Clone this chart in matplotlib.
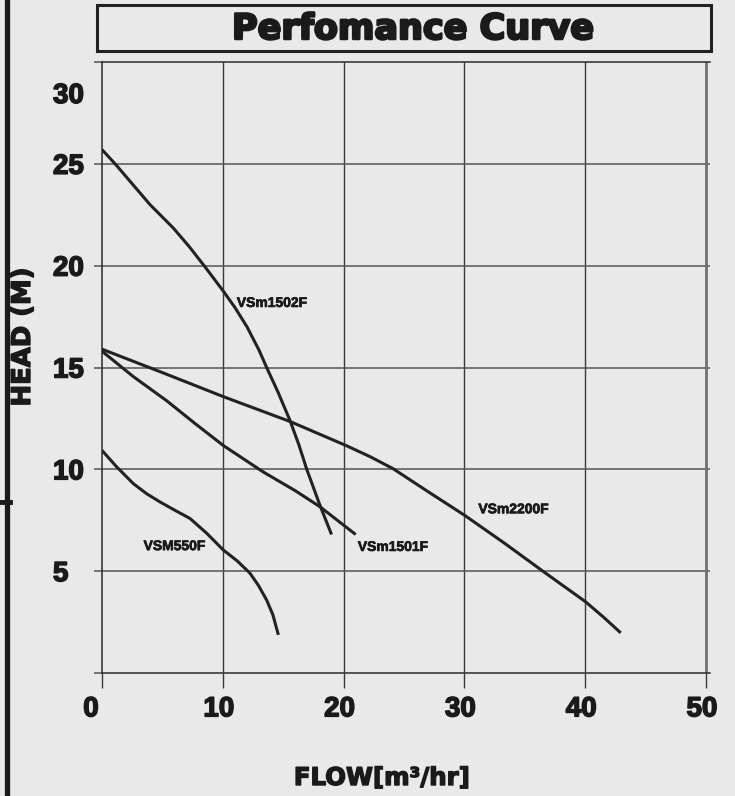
import matplotlib
matplotlib.use("Agg")
import matplotlib.pyplot as plt
from matplotlib.patches import Rectangle
from matplotlib.lines import Line2D
import matplotlib.transforms as mtransforms
import matplotlib.patheffects as pe

# ---- data ----
vsm1502_x = [0, 1.16, 2.6, 3.97, 5.9, 7.2, 8.53, 10.04, 11.0, 12.0, 13.0, 13.63, 14.6, 15.56, 16.3, 16.95, 18.0, 19.0]
vsm1502_y = [25.7, 24.95, 23.95, 23.0, 21.85, 20.95, 19.94, 18.75, 17.95, 17.0, 15.85, 15.0, 13.75, 12.4, 11.2, 10.0, 8.3, 6.8]
vsm2200_x = [0, 5.0, 10.04, 15.56, 20.2, 22.2, 24.1, 27.0, 30.0, 33.3, 36.54, 40.0, 41.5, 42.94]
vsm2200_y = [15.9, 14.75, 13.57, 12.35, 11.17, 10.62, 10.03, 8.9, 7.75, 6.38, 4.98, 3.51, 2.75, 1.97]
vsm1501_x = [0, 2.6, 5.35, 7.7, 10.04, 13.35, 16.0, 18.05, 21.0]
vsm1501_y = [15.8, 14.55, 13.37, 12.25, 11.17, 9.87, 8.95, 8.16, 6.8]
vsm550_x = [0, 1.2, 2.59, 3.7, 4.8, 6.0, 7.28, 8.67, 10.04, 11.2, 12.25, 12.95, 13.63, 14.15, 14.6]
vsm550_y = [10.93, 10.13, 9.3, 8.8, 8.4, 8.0, 7.59, 6.86, 6.04, 5.5, 4.9, 4.3, 3.58, 2.85, 1.87]

series_names = ["VSm1502F", "VSm2200F", "VSm1501F", "VSM550F"]
label_pos = [(14.07, 18.17), (34.06, 8.04), (24.09, 6.19), (6.0, 6.23)]

x_ticks = [0, 10, 20, 30, 40, 50]
y_ticks = [0, 5, 10, 15, 20, 25, 30]
y_ticklabels = ["", "5", "10", "15", "20", "25", ""]

BG = "#e9e9e9"
TXT = "#1a1a1a"
W, H = 735, 796
fig = plt.figure(figsize=(W / 100, H / 100), dpi=100, facecolor=BG)

ax = fig.add_axes([102 / W, (H - 673) / H, 608 / W, 611 / H], facecolor=BG)
ax.set_xlim(0, 50.33)
ax.set_ylim(0, 30)

# grid
for xv in x_ticks[1:-1]:
    ax.axvline(xv, color="#3a3a3a", lw=1.0, zorder=1)
for yv in y_ticks[1:-1]:
    ax.axhline(yv, color="#555555", lw=1.1, zorder=1)
ax.axvline(50, color="#707070", lw=2.0, zorder=1)

ax.spines["right"].set_visible(False)
for s in ["left", "bottom", "top"]:
    ax.spines[s].set_color("#2a2a2a")
    ax.spines[s].set_linewidth(1.1)

heavy = [pe.withStroke(linewidth=1.1, foreground=TXT)]

ax.set_xticks(x_ticks)
ax.set_xticklabels([str(v) for v in x_ticks])
ax.set_yticks(y_ticks)
ax.set_yticklabels(y_ticklabels)
ax.tick_params(axis="x", direction="out", length=10.8, width=1.0, color="#3a3a3a", pad=6.0)
ax.tick_params(axis="y", direction="out", length=5.8, width=1.1, color="#555555", pad=29.5)
for i, lab in enumerate(ax.get_xticklabels()):
    lab.set_fontfamily("Liberation Sans")
    lab.set_fontweight("bold")
    lab.set_fontsize(20)
    lab.set_color(TXT)
    lab.set_path_effects(heavy)
    shift = -11 if i == 0 else -4
    lab.set_transform(lab.get_transform() + mtransforms.ScaledTranslation(shift / 100, 0, fig.dpi_scale_trans))
for lab in ax.get_yticklabels():
    lab.set_fontfamily("Liberation Sans")
    lab.set_fontweight("bold")
    lab.set_fontsize(20)
    lab.set_color(TXT)
    lab.set_horizontalalignment("left")
    lab.set_path_effects(heavy)
ax.text((53 - 102) / 608, 28.33, "30", transform=ax.get_yaxis_transform(),
        ha="left", va="center", fontfamily="Liberation Sans", fontweight="bold",
        fontsize=20, color=TXT, clip_on=False, path_effects=heavy)

# curves
lc = "#222222"
for xs, ys in [(vsm1502_x, vsm1502_y), (vsm2200_x, vsm2200_y),
               (vsm1501_x, vsm1501_y), (vsm550_x, vsm550_y)]:
    ax.plot(xs, ys, color=lc, lw=2.2, solid_capstyle="butt", solid_joinstyle="round", zorder=3)

for name, (lx, ly) in zip(series_names, label_pos):
    ax.text(lx, ly, name, ha="center", va="center", fontfamily="Liberation Sans",
            fontweight="bold", fontsize=10, color=TXT, zorder=4,
            path_effects=[pe.withStroke(linewidth=0.5, foreground=TXT)])

# title box
fig.add_artist(Rectangle((97 / W, (H - 51) / H), 614 / W, 46 / H, transform=fig.transFigure,
                         facecolor=BG, edgecolor="#222222", lw=2.2))
fig.text(413 / W, 1 - 29 / H, "Perfomance Curve", ha="center", va="center",
         fontfamily="DejaVu Sans", fontweight="bold", fontsize=25.2, color=TXT,
         path_effects=[pe.withStroke(linewidth=1.8, foreground=TXT)])

# axis labels
fig.text(381.5 / W, 1 - 778 / H, "FLOW[m³/hr]", ha="center", va="center",
         fontfamily="DejaVu Sans", fontweight="bold", fontsize=17.6, color=TXT,
         path_effects=[pe.withStroke(linewidth=1.0, foreground=TXT)])
fig.text(23 / W, 1 - 337 / H, "HEAD (M)", ha="center", va="center", rotation=90,
         fontfamily="DejaVu Sans", fontweight="bold", fontsize=18.6, color=TXT,
         path_effects=[pe.withStroke(linewidth=1.0, foreground=TXT)])

# left frame decorations
fig.add_artist(Line2D([7.5 / W, 7.5 / W], [0, 1], transform=fig.transFigure,
                      color=TXT, lw=3.8))
fig.add_artist(Line2D([0, 10 / W], [1 - 501.5 / H, 1 - 501.5 / H], transform=fig.transFigure,
                      color=TXT, lw=3.5))

fig.savefig("out.png", dpi=100, facecolor=BG)
